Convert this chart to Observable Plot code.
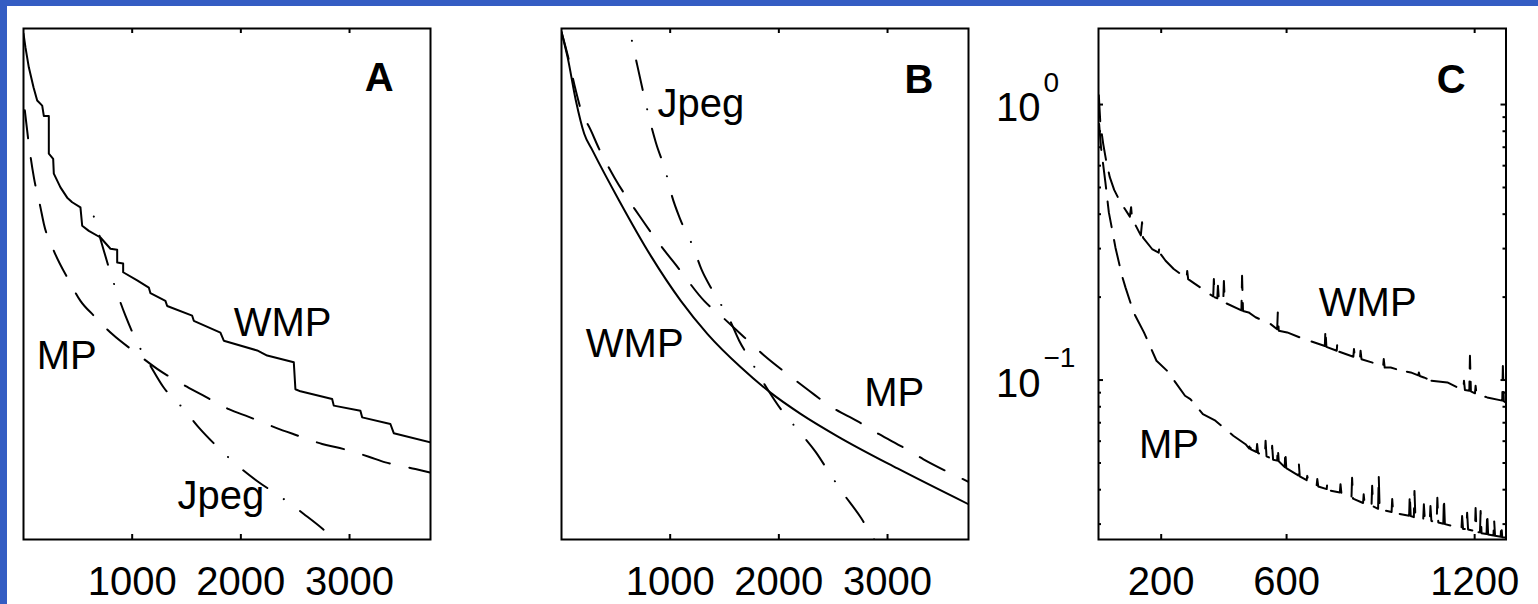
<!DOCTYPE html>
<html><head><meta charset="utf-8">
<script src="https://cdn.jsdelivr.net/npm/d3@7"></script>
<script src="https://cdn.jsdelivr.net/npm/@observablehq/plot@0.6"></script>
<style>
html,body{margin:0;padding:0;background:#fff;overflow:hidden;}
#fig{position:relative;width:1538px;height:604px;background:#fff;}
.panel{position:absolute;top:0;}
.panel svg{overflow:visible;max-width:none;}
.bl{position:absolute;left:0;top:0;width:7px;height:604px;background:#345dc3;z-index:5}
.bt{position:absolute;left:0;top:0;width:1538px;height:6px;background:#345dc3;z-index:5}
</style></head><body>
<div id="fig"><div class="bl"></div><div class="bt"></div>
<div class="panel" id="pA" style="left:0px;width:480px"></div>
<div class="panel" id="pB" style="left:500px;width:480px"></div>
<div class="panel" id="pC" style="left:980px;width:558px"></div>
</div>
<script>
// ---------- data ----------
const abTicks = [1000, 2000, 3000];
const cTicksX = [200, 600, 1200];
const cMajorY = [1, 0.1];
const cMinorY = [0.9, 0.8, 0.7, 0.6, 0.5, 0.4, 0.3, 0.2, 0.09, 0.08, 0.07, 0.06, 0.05, 0.04, 0.03];
const cExponents = ["0", "\u22121"];

// Panel A : [bits, error]
const aWMP = [[0,0.990],[18,0.963],[49,0.924],[92,0.885],[126,0.859],[172,0.849],[187,0.829],[233,0.829],[233,0.755],[273,0.745],[279,0.716],[340,0.689],[402,0.669],[448,0.660],[524,0.650],[540,0.614],[601,0.604],[708,0.591],[800,0.569],[862,0.567],[862,0.542],[917,0.540],[917,0.523],[1046,0.507],[1153,0.493],[1168,0.482],[1306,0.467],[1322,0.457],[1552,0.438],[1567,0.428],[1812,0.405],[1843,0.389],[2150,0.370],[2242,0.360],[2487,0.347],[2502,0.294],[2548,0.290],[2840,0.275],[2855,0.262],[3100,0.252],[3116,0.239],[3376,0.226],[3407,0.208],[3745,0.190]];
const aMP = [[12,0.840],[49,0.774],[95,0.709],[156,0.650],[187,0.618],[279,0.565],[417,0.507],[524,0.467],[647,0.438],[816,0.402],[1030,0.366],[1230,0.334],[1460,0.304],[1644,0.283],[1889,0.255],[2073,0.240],[2318,0.219],[2487,0.206],[2748,0.187],[2910,0.179],[3177,0.162],[3330,0.151],[3606,0.138],[3745,0.131]];
const aJpeg = [[647,0.632],[708,0.588],[794,0.526],[862,0.482],[938,0.438],[1052,0.383],[1168,0.340],[1285,0.299],[1475,0.255],[1622,0.217],[1776,0.183],[1990,0.141],[2165,0.112],[2349,0.086],[2579,0.050],[2757,0.020],[2916,-0.012]];

// Panel B
const bWMP = [[0,0.993],[56,0.944],[132,0.859],[209,0.794],[286,0.761],[531,0.663],[822,0.555],[1098,0.467],[1344,0.402],[1650,0.337],[1926,0.287],[2200,0.246],[2540,0.202],[3092,0.139],[3745,0.069]];
const bMP = [[0,0.993],[60,0.945],[132,0.878],[209,0.823],[240,0.813],[347,0.764],[485,0.709],[715,0.634],[878,0.585],[1083,0.529],[1313,0.467],[1482,0.435],[1681,0.396],[1865,0.360],[2095,0.321],[2279,0.291],[2494,0.258],[2718,0.232],[2923,0.206],[3147,0.180],[3331,0.157],[3567,0.131],[3745,0.113]];
const bJpeg = [[648,0.976],[694,0.931],[776,0.853],[807,0.825],[868,0.777],[960,0.719],[1015,0.673],[1092,0.627],[1212,0.572],[1289,0.528],[1390,0.487],[1543,0.432],[1635,0.389],[1742,0.350],[1896,0.294],[2018,0.255],[2156,0.219],[2340,0.171],[2463,0.131],[2586,0.092],[2754,0.043],[2868,0.003],[2950,-0.02]];

// Panel C (log scale)
const cWMP = [[1,1.08],[6,0.85],[15,0.72],[25,0.62],[36,0.545],[50,0.49],[70,0.442],[100,0.392],[104,0.424],[107,0.386],[135,0.335],[139,0.374],[142,0.329],[171,0.299],[192,0.290],[195,0.3075],[198,0.287],[214,0.271],[240,0.253],[281,0.234],[283,0.249],[286,0.2325],[309,0.223],[366,0.201],[368,0.2325],[371,0.1995],[379,0.198],[381,0.220],[384,0.197],[398,0.193],[400,0.229],[403,0.191],[456,0.179],[458,0.239],[461,0.178],[479,0.176],[501,0.169],[549,0.1597],[570,0.153],[572,0.176],[575,0.151],[602,0.1489],[655,0.1409],[722,0.133],[724,0.153],[727,0.132],[760,0.1278],[762,0.137],[765,0.127],[813,0.1215],[815,0.1296],[818,0.121],[834,0.119],[836,0.1278],[839,0.119],[889,0.1143],[908,0.112],[910,0.1192],[913,0.111],[932,0.1111],[962,0.1085],[964,0.1096],[966,0.108],[996,0.1066],[1020,0.104],[1022,0.1066],[1025,0.1035],[1038,0.1022],[1057,0.1],[1059,0.1037],[1062,0.0995],[1113,0.098],[1145,0.094],[1164,0.0925],[1166,0.0994],[1169,0.092],[1183,0.0915],[1185,0.1226],[1188,0.091],[1201,0.0895],[1203,0.0953],[1206,0.089],[1240,0.0865],[1288,0.0842],[1290,0.1125],[1293,0.0838],[1300,0.0827]];
const cMP = [[2,0.85],[8,0.70],[22,0.522],[33,0.406],[48,0.330],[54,0.303],[75,0.239],[86,0.217],[112,0.176],[145,0.149],[185,0.1175],[219,0.108],[276,0.0877],[293,0.0853],[333,0.0752],[373,0.0712],[430,0.0628],[469,0.0585],[481,0.0564],[483,0.0602],[486,0.056],[504,0.0548],[506,0.0586],[509,0.0543],[531,0.0533],[533,0.0602],[536,0.0529],[552,0.0518],[554,0.0577],[557,0.0514],[570,0.051],[572,0.0568],[575,0.0507],[594,0.0483],[596,0.0553],[599,0.0479],[637,0.0451],[639,0.05],[642,0.0447],[664,0.0433],[666,0.0449],[669,0.043],[696,0.0415],[698,0.0437],[701,0.0411],[728,0.0402],[730,0.0424],[733,0.0398],[770,0.0391],[772,0.0419],[775,0.0387],[807,0.0374],[809,0.0442],[812,0.0371],[844,0.0358],[846,0.0385],[849,0.0356],[871,0.035],[873,0.0413],[876,0.0348],[892,0.0341],[894,0.0449],[897,0.0339],[935,0.0332],[937,0.037],[940,0.033],[991,0.0322],[993,0.0385],[996,0.0321],[1006,0.0318],[1008,0.0396],[1011,0.0317],[1036,0.0314],[1038,0.0354],[1041,0.0312],[1057,0.0309],[1059,0.0349],[1062,0.0308],[1079,0.0305],[1081,0.0374],[1084,0.0304],[1100,0.0301],[1102,0.0374],[1105,0.03],[1158,0.0289],[1160,0.0321],[1163,0.0288],[1174,0.0288],[1176,0.033],[1179,0.0287],[1201,0.0283],[1203,0.0343],[1206,0.028],[1217,0.028],[1219,0.0335],[1222,0.0278],[1238,0.0276],[1240,0.033],[1243,0.0275],[1260,0.0273],[1262,0.0312],[1265,0.0272],[1283,0.027],[1285,0.03],[1288,0.0269],[1300,0.0268]];

// labels (data coordinates)
const labelsA = [{text:"WMP", x:1935, y:0.399},{text:"MP", x:122, y:0.334},{text:"Jpeg", x:1417, y:0.0595}];
const labelsB = [{text:"Jpeg", x:884, y:0.826},{text:"WMP", x:224, y:0.358},{text:"MP", x:2785, y:0.262}];
const labelsC = [{text:"WMP", x:703, y:0.1713},{text:"MP", x:129, y:0.0523}];
const letters = [{text:"A", x:3273, y:0.8786},{text:"B", x:3288, y:0.8747},{text:"C", x:1125, y:1.10}];

// ---------- drawing ----------
const FONT = "'Liberation Sans', Arial, Helvetica, sans-serif";
const DASH = "28,20";
const DASH_C = "26,13";
const DASHDOT = "30,20,0.1,20";
const H = 604, MT = 28, MB = 65, FH = H - MT - MB;
const FW = 407;

function seriesLine(data, dash, offset, curve) {
  return Plot.line(data, {x: d => d[0], y: d => d[1], stroke: "black", strokeWidth: 2,
    strokeDasharray: dash || null, strokeDashoffset: offset || 0, clip: true,
    curve: curve || "linear"});
}

function xTickMarks(ticks) {
  return [
    Plot.tickX(ticks, {x: d => d, insetTop: FH - 5, stroke: "black", strokeWidth: 2}),
    Plot.tickX(ticks, {x: d => d, insetBottom: FH - 5, stroke: "black", strokeWidth: 2})
  ];
}
function xLabels(ticks) {
  return Plot.axisX({ticks, tickSize: 0, tickPadding: 27, fontSize: 40, label: null,
    tickFormat: d => String(d)});
}
function textLabels(labels) {
  return Plot.text(labels, {x: "x", y: "y", text: "text", fontSize: 40, textAnchor: "start",
    lineAnchor: "bottom", fill: "black"});
}
function letterMark(i) {
  return Plot.text([letters[i]], {x: "x", y: "y", text: "text", fontSize: 40, fontWeight: "bold",
    textAnchor: "middle", lineAnchor: "bottom", fill: "black"});
}

const common = {height: H, marginTop: MT, marginBottom: MB,
  style: {fontFamily: FONT, background: "transparent", color: "black", overflow: "visible"}};

const plotA = Plot.plot({...common, width: 480, marginLeft: 23, marginRight: 480 - 23 - FW,
  x: {domain: [0, 3745]}, y: {domain: [0, 1], axis: null},
  marks: [
    seriesLine(aWMP),
    seriesLine(aMP, DASH, 0, "monotone-x"),
    seriesLine(aJpeg, DASHDOT, 50, "monotone-x"),
    ...xTickMarks(abTicks),
    xLabels(abTicks),
    textLabels(labelsA),
    letterMark(0),
    Plot.frame({stroke: "black", strokeWidth: 2})
  ]});
document.getElementById("pA").appendChild(plotA);

const plotB = Plot.plot({...common, width: 480, marginLeft: 61, marginRight: 480 - 61 - FW,
  x: {domain: [0, 3745]}, y: {domain: [0, 1], axis: null},
  marks: [
    seriesLine(bWMP, null, 0, "monotone-x"),
    seriesLine(bMP, DASH, 0, "monotone-x"),
    seriesLine(bJpeg, DASHDOT, 50, "monotone-x"),
    ...xTickMarks(abTicks),
    xLabels(abTicks),
    textLabels(labelsB),
    letterMark(1),
    Plot.frame({stroke: "black", strokeWidth: 2})
  ]});
document.getElementById("pB").appendChild(plotB);

const FWC = 407.5;
const plotC = Plot.plot({...common, width: 558, marginLeft: 118, marginRight: 558 - 118 - FWC,
  x: {domain: [0, 1300]}, y: {type: "log", domain: [0.02638, 1.888], axis: null},
  marks: [
    seriesLine(cWMP, DASH_C),
    seriesLine(cMP, DASH_C),
    ...xTickMarks(cTicksX),
    xLabels(cTicksX),
    Plot.tickY(cMajorY, {y: d => d, insetRight: FWC - 5, stroke: "black", strokeWidth: 2}),
    Plot.tickY(cMajorY, {y: d => d, insetLeft: FWC - 5, stroke: "black", strokeWidth: 2}),
    Plot.tickY(cMinorY, {y: d => d, insetRight: FWC - 3, stroke: "black", strokeWidth: 2}),
    Plot.tickY(cMinorY, {y: d => d, insetLeft: FWC - 3, stroke: "black", strokeWidth: 2}),
    Plot.text(cMajorY, {y: d => d, frameAnchor: "left", text: () => "10", textAnchor: "end",
      lineAnchor: "bottom", dx: -58, dy: 16.5, fontSize: 40, fill: "black"}),
    Plot.text(cMajorY, {y: d => d, frameAnchor: "left", text: (d, i) => cExponents[i], textAnchor: "start",
      lineAnchor: "bottom", dx: -55, dy: -13, fontSize: 28, fill: "black"}),
    textLabels(labelsC),
    letterMark(2),
    Plot.frame({stroke: "black", strokeWidth: 2})
  ]});
document.getElementById("pC").appendChild(plotC);
</script>
</body></html>
